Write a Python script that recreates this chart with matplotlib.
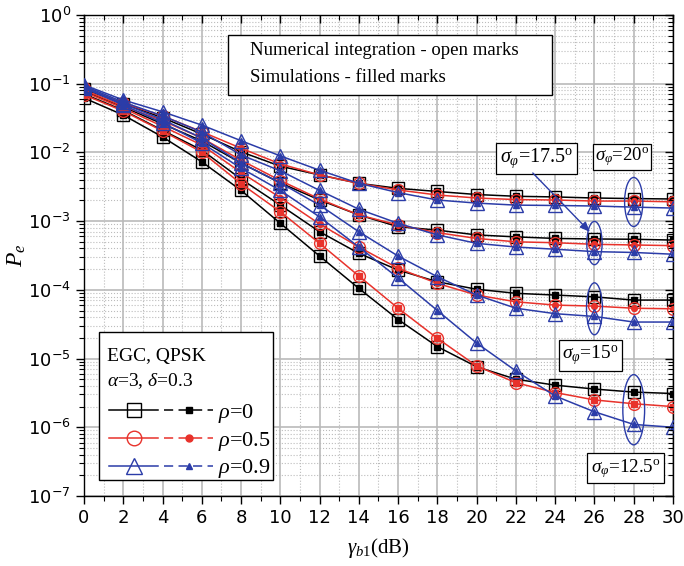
import matplotlib
matplotlib.use("Agg")
import matplotlib.pyplot as plt
from matplotlib.lines import Line2D
from matplotlib.patches import Ellipse, Rectangle, FancyArrowPatch
from matplotlib.legend_handler import HandlerTuple
from matplotlib.ticker import MultipleLocator, LogLocator, FixedLocator, NullFormatter

# ---- dados ----
snr_db = [0, 2, 4, 6, 8, 10, 12, 14, 16, 18, 20, 22, 24, 26, 28, 30]
decadas = [1e-7, 1e-6, 1e-5, 1e-4, 1e-3, 1e-2, 1e-1, 1e0]

# sigma_phi = 20 graus
pe_s20_rho0 = [8.4e-2, 5.1e-2, 3.2e-2, 1.85e-2, 1.02e-2, 6.3e-3, 4.7e-3, 3.55e-3,
               3.0e-3, 2.7e-3, 2.44e-3, 2.3e-3, 2.25e-3, 2.17e-3, 2.13e-3, 2.1e-3]
pe_s20_rho05 = [8.7e-2, 5.2e-2, 3.4e-2, 2.0e-2, 1.15e-2, 6.8e-3, 4.7e-3, 3.55e-3,
                2.84e-3, 2.4e-3, 2.17e-3, 2.06e-3, 2.03e-3, 1.96e-3, 1.96e-3, 1.91e-3]
pe_s20_rho09 = [9.6e-2, 5.8e-2, 3.9e-2, 2.5e-2, 1.48e-2, 8.9e-3, 5.5e-3, 3.55e-3,
                2.6e-3, 2.03e-3, 1.83e-3, 1.71e-3, 1.69e-3, 1.66e-3, 1.6e-3, 1.55e-3]

# sigma_phi = 17.5 graus
pe_s175_rho0 = [7.8e-2, 4.6e-2, 2.6e-2, 1.47e-2, 7.0e-3, 3.6e-3, 2.03e-3, 1.23e-3,
                8.3e-4, 7.4e-4, 6.3e-4, 5.9e-4, 5.6e-4, 5.5e-4, 5.45e-4, 5.3e-4]
pe_s175_rho05 = [8.1e-2, 4.7e-2, 2.9e-2, 1.62e-2, 7.7e-3, 3.9e-3, 2.1e-3, 1.23e-3,
                 8.8e-4, 6.8e-4, 5.6e-4, 5.0e-4, 4.85e-4, 4.6e-4, 4.5e-4, 4.4e-4]
pe_s175_rho09 = [9.3e-2, 5.4e-2, 3.4e-2, 1.98e-2, 9.2e-3, 5.4e-3, 2.8e-3, 1.49e-3,
                 9.3e-4, 6.3e-4, 4.75e-4, 4.2e-4, 3.9e-4, 3.6e-4, 3.5e-4, 3.3e-4]

# sigma_phi = 15 graus
pe_s15_rho0 = [7.1e-2, 4.1e-2, 2.1e-2, 1.08e-2, 4.1e-3, 1.71e-3, 7.0e-4, 3.4e-4,
               1.94e-4, 1.31e-4, 1.02e-4, 8.9e-5, 8.4e-5, 7.9e-5, 7.1e-5, 7.1e-5]
pe_s15_rho05 = [7.6e-2, 4.4e-2, 2.4e-2, 1.28e-2, 5.1e-3, 2.2e-3, 9.1e-4, 4.2e-4,
                2.06e-4, 1.24e-4, 8.4e-5, 6.7e-5, 6.0e-5, 5.8e-5, 5.4e-5, 5.3e-5]
pe_s15_rho09 = [9.0e-2, 5.1e-2, 3.0e-2, 1.62e-2, 7.0e-3, 3.6e-3, 1.71e-3, 7.0e-4,
                3.1e-4, 1.55e-4, 8.4e-5, 5.4e-5, 4.5e-5, 4.1e-5, 3.4e-5, 3.4e-5]

# sigma_phi = 12.5 graus
pe_s125_rho0 = [6.2e-2, 3.5e-2, 1.68e-2, 7.3e-3, 2.8e-3, 9.3e-4, 3.1e-4, 1.05e-4,
                3.7e-5, 1.49e-5, 7.6e-6, 5.0e-6, 4.1e-6, 3.6e-6, 3.25e-6, 3.1e-6]
pe_s125_rho05 = [6.9e-2, 4.0e-2, 2.05e-2, 1.01e-2, 3.5e-3, 1.37e-3, 4.75e-4, 1.59e-4,
                 5.4e-5, 1.97e-5, 7.8e-6, 4.45e-6, 3.2e-6, 2.5e-6, 2.2e-6, 2.0e-6]
pe_s125_rho09 = [8.7e-2, 4.9e-2, 2.7e-2, 1.37e-2, 5.9e-3, 2.8e-3, 1.15e-3, 4.2e-4,
                 1.49e-4, 5.0e-5, 1.68e-5, 6.6e-6, 2.85e-6, 1.68e-6, 1.1e-6, 1.0e-6]

rho_labels = ["0", "0.5", "0.9"]
sigma_labels = ["17.5", "20", "15", "12.5"]   # na ordem das caixas abaixo

# ---- estilo ----
PRETO = "#000000"
VERMELHO = "#e8322b"
AZUL = "#2b3ca8"
cores = [PRETO, VERMELHO, AZUL]
marc_aberto = ["s", "o", "^"]
tam_aberto = [8, 8.5, 9.5]

plt.rcParams["font.family"] = "DejaVu Sans"
plt.rcParams["mathtext.fontset"] = "custom"
plt.rcParams["mathtext.rm"] = "Liberation Serif"
plt.rcParams["mathtext.it"] = "Liberation Serif:italic"
plt.rcParams["mathtext.bf"] = "Liberation Serif:bold"
SERIF = "Liberation Serif"

POS = [0.1228, 0.1237, 0.8611, 0.8498]
fig = plt.figure(figsize=(6.84, 5.66), dpi=100)
ax = fig.add_axes(POS)

grupos = [
    [pe_s20_rho0, pe_s20_rho05, pe_s20_rho09],
    [pe_s175_rho0, pe_s175_rho05, pe_s175_rho09],
    [pe_s15_rho0, pe_s15_rho05, pe_s15_rho09],
    [pe_s125_rho0, pe_s125_rho05, pe_s125_rho09],
]
# marcador cheio (simulacao) por grupo; vermelho do 12.5 usa quadrado
marc_cheio = [["s", "o", "^"], ["s", "o", "^"], ["s", "o", "^"], ["s", "s", "^"]]

for g, curvas in enumerate(grupos):
    for i, pe in enumerate(curvas):
        c = cores[i]
        # integracao numerica - marcas abertas
        ax.plot(snr_db, pe, color=c, lw=1.1, marker=marc_aberto[i],
                ms=tam_aberto[i], mfc="none", mec=c, mew=1.0, zorder=3 + i)
        # simulacao - marcas cheias
        ax.plot(snr_db, pe, ls="none", marker=marc_cheio[g][i], ms=4.2,
                color=c, zorder=3.5 + i)

XLIM, YLIM = (0, 30), (1e-7, 1)


def eixos(a):
    a.set_yscale("log")
    a.set_xlim(*XLIM)
    a.set_ylim(*YLIM)
    a.xaxis.set_major_locator(MultipleLocator(2))
    a.xaxis.set_minor_locator(MultipleLocator(1))
    a.yaxis.set_major_locator(FixedLocator(decadas))
    a.yaxis.set_minor_locator(LogLocator(base=10, subs=range(2, 10), numticks=12))
    a.yaxis.set_minor_formatter(NullFormatter())


eixos(ax)
ax.set_axisbelow(True)
ax.grid(which="major", color="#bababa", lw=1.2)
ax.grid(which="minor", color="#bcbcbc", lw=0.8, ls=":")

ax.tick_params(which="major", direction="out", length=6, width=1, labelsize=13)
ax.tick_params(which="minor", direction="out", length=3.5, width=0.8)
for s in ax.spines.values():
    s.set_linewidth(1.0)

# eixo sobreposto so para os ticks para dentro em cima e na direita
ax2 = fig.add_axes(POS, frameon=False)
eixos(ax2)
ax2.patch.set_visible(False)
ax2.tick_params(which="both", direction="in", bottom=False, left=False,
                top=True, right=True, labelbottom=False, labelleft=False)
ax2.tick_params(which="major", length=6, width=1)
ax2.tick_params(which="minor", length=3.5, width=0.8)

ax.set_xlabel(r"$\gamma_{b1}$(dB)", fontsize=15, family=SERIF, labelpad=6)
ax.set_ylabel(r"$P_e$", fontsize=17, family=SERIF, labelpad=0)

# ---- caixa de texto superior ----
ax.add_patch(Rectangle((0.2445, 0.834), 0.5501, 0.124, transform=ax.transAxes,
                       facecolor="white", edgecolor="black", lw=1.0, zorder=10))
ax.text(0.282, 0.927, "Numerical integration - open marks", transform=ax.transAxes,
        family=SERIF, fontsize=13.5, va="center", ha="left", zorder=11)
ax.text(0.282, 0.871, "Simulations - filled marks", transform=ax.transAxes,
        family=SERIF, fontsize=13.5, va="center", ha="left", zorder=11)

# ---- rotulos sigma_phi ----
caixas = [(0.768, 0.702, 14.5, 0.18), (0.9134, 0.705, 13.5, 0.1),
          (0.860, 0.292, 14.0, 0.18), (0.920, 0.058, 13.8, 0.18)]
for (bx, by, fs, pad), s in zip(caixas, sigma_labels):
    ax.text(bx, by, r"$\sigma_{\varphi}$=" + s + r"$^{\rm o}$", transform=ax.transAxes,
            family=SERIF, fontsize=fs, ha="center", va="center", zorder=12,
            bbox=dict(boxstyle=f"square,pad={pad}", facecolor="white",
                      edgecolor="black", lw=0.9))

# elipses em volta dos pontos (x em dB, y em Pe, tamanho em fracao do eixo)
elipses = [(28, 1.9e-3, 0.031, 0.102), (26, 4.8e-4, 0.026, 0.090),
           (26, 5.3e-5, 0.027, 0.108), (28, 1.8e-6, 0.037, 0.146)]
to_axes = ax.transAxes.inverted()
for xe, ye, we, he in elipses:
    cx, cy = to_axes.transform(ax.transData.transform((xe, ye)))
    ax.add_patch(Ellipse((cx, cy), we, he, transform=ax.transAxes, fill=False,
                         edgecolor=AZUL, lw=1.0, zorder=9))

ax.add_patch(FancyArrowPatch((0.762, 0.6715), (0.859, 0.549), transform=ax.transAxes,
                             arrowstyle="-|>,head_length=6,head_width=2.5",
                             color=AZUL, lw=1.0, shrinkA=0, shrinkB=0, zorder=12))

# ---- legenda: moldura e textos a parte, entradas via legend ----
ax.add_patch(Rectangle((0.0255, 0.0333), 0.2954, 0.3077, transform=ax.transAxes,
                       facecolor="white", edgecolor="black", lw=1.0, zorder=11))
ax.text(0.039, 0.289, "EGC, QPSK", transform=ax.transAxes, family=SERIF,
        fontsize=14, ha="left", va="center", zorder=12)
ax.text(0.039, 0.239, r"$\alpha$=3, $\delta$=0.3", transform=ax.transAxes,
        family=SERIF, fontsize=14, ha="left", va="center", zorder=12)

handles = []
for i in range(3):
    c = cores[i]
    h1 = Line2D([], [], color=c, lw=1.1, marker=marc_aberto[i], ms=tam_aberto[i] + 2,
                mfc="none", mec=c, mew=1.0)
    h2 = Line2D([], [], color=c, lw=1.1, ls=(0, (6, 3.5)), marker=marc_aberto[i], ms=5)
    handles.append((h1, h2))
labels = [r"$\rho$=" + r for r in rho_labels]
leg = ax.legend(handles, labels, handler_map={tuple: HandlerTuple(ndivide=None, pad=0.25)},
                loc="center left", bbox_to_anchor=(0.0424, 0.1143), borderaxespad=0,
                prop={"family": SERIF, "size": 16}, frameon=False,
                handlelength=4.7, handletextpad=0.2, labelspacing=0.22, borderpad=0)
leg.set_zorder(13)

fig.savefig("out.png", dpi=100, facecolor="white")
